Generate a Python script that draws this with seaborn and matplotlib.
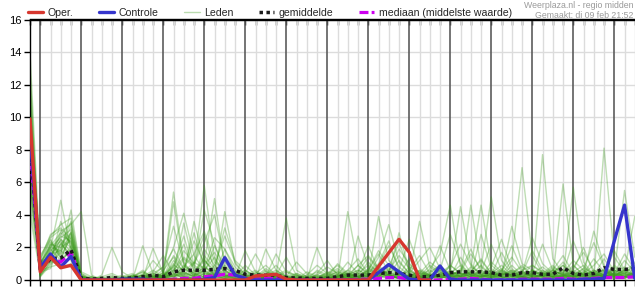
import numpy as np
import pandas as pd
import matplotlib
matplotlib.use("Agg")
import matplotlib.pyplot as plt
import seaborn as sns
from matplotlib.lines import Line2D

sns.set_theme(style="white")
plt.rcParams['font.family'] = ['Liberation Sans', 'DejaVu Sans']

# ---------------- data (6-hourly steps, step 0 = di 09 feb 18:00) ----------------
day_labels = ["Wo 10", "Do 11", "Vr 12", "Za 13", "Zo 14", "Ma 15", "Di 16",
              "Wo 17", "Do 18", "Vr 19", "Za 20", "Zo 21", "Ma 22", "Di 23"]
y_ticks = [0, 2, 4, 6, 8, 10, 12, 14, 16]

oper = [9.9, 0.5, 1.4, 0.75, 0.9, 0, 0, 0, 0, 0,
        0, 0, 0, 0, 0, 0, 0, 0, 0, 0,
        0, 0, 0.25, 0.3, 0.35, 0.05, 0, 0, 0, 0,
        0, 0, 0, 0, 0.83, 1.67, 2.5, 1.7, 0, 0]

controle = [8.9, 0.75, 1.6, 0.8, 1.45, 0, 0, 0, 0, 0.05,
            0.05, 0.05, 0, 0, 0, 0, 0, 0.05, 0.15, 1.37,
            0.3, 0.1, 0, 0, 0, 0, 0, 0, 0, 0,
            0, 0, 0, 0, 0.45, 0.95, 0.5, 0.05, 0, 0,
            0.86, 0.05, 0, 0, 0, 0, 0, 0, 0, 0,
            0, 0, 0, 0, 0.05, 0.05, 0.1, 2.4, 4.6, 0.1]

gemiddelde = [8.5, 0.65, 1.3, 1.35, 1.85, 0.1, 0.05, 0.1, 0.15, 0.1,
              0.12, 0.2, 0.3, 0.2, 0.5, 0.6, 0.6, 0.6, 0.65, 0.7,
              0.6, 0.35, 0.3, 0.3, 0.3, 0.15, 0.12, 0.1, 0.1, 0.1,
              0.2, 0.3, 0.3, 0.3, 0.4, 0.45, 0.4, 0.3, 0.2, 0.2,
              0.3, 0.45, 0.5, 0.5, 0.5, 0.45, 0.3, 0.3, 0.45, 0.45,
              0.35, 0.35, 0.75, 0.4, 0.3, 0.4, 0.75, 0.65, 0.65, 0.7]

mediaan = [8.0, 0.6, 1.4, 1.1, 1.7, 0, 0, 0, 0, 0,
           0, 0, 0.05, 0, 0.05, 0.1, 0.1, 0.2, 0.25, 0.35,
           0.3, 0.1, 0.05, 0.1, 0.1, 0, 0, 0, 0, 0,
           0, 0, 0.05, 0.05, 0.1, 0.15, 0.15, 0.05, 0, 0,
           0, 0.05, 0.05, 0.1, 0.05, 0, 0, 0, 0.05, 0.05,
           0.05, 0.05, 0.1, 0.05, 0.05, 0.1, 0.15, 0.15, 0.15, 0.2]

m01 = [14.0, 1.2, 2.8, 3.2, 2.5, 0.3, 0.0, 0.0, 0.2, 0.0,
       0.0, 0.1, 0.3, 0.8, 1.9, 0.7, 0.4, 1.2, 0.6, 0.3,
       0.1, 0.0, 0.2, 0.5, 0.3, 0.1, 0.0, 0.1, 0.3, 0.8,
       0.4, 0.2, 0.9, 1.5, 0.7, 0.3, 0.1, 0.0, 0.4, 1.1,
       0.6, 0.2, 0.1, 0.5, 1.3, 0.4, 0.2, 0.0, 0.3, 0.9,
       0.5, 0.1, 0.2, 0.8, 1.7, 0.6, 0.3, 0.9, 0.4, 0.2]
m02 = [13.0, 0.6, 1.9, 4.9, 1.8, 0.1, 0.0, 0.1, 0.0, 0.0,
       0.2, 0.5, 0.1, 0.0, 0.6, 1.4, 0.9, 5.8, 1.3, 0.4,
       0.2, 0.1, 0.0, 0.3, 0.6, 0.2, 0.0, 0.0, 0.1, 0.2,
       0.5, 0.3, 0.1, 0.6, 1.8, 0.9, 0.4, 0.2, 0.0, 0.1,
       0.3, 0.8, 2.2, 0.9, 0.3, 0.1, 0.6, 1.4, 0.5, 0.2,
       0.1, 0.4, 1.1, 0.3, 0.0, 0.2, 0.7, 0.3, 1.2, 0.5]
m03 = [12.5, 0.9, 2.3, 1.6, 4.3, 0.4, 0.1, 0.0, 0.0, 0.1,
       0.3, 0.0, 0.2, 0.4, 5.4, 1.1, 0.2, 0.1, 0.3, 0.9,
       0.4, 0.2, 0.1, 0.0, 0.2, 0.5, 0.3, 0.1, 0.0, 0.0,
       0.2, 0.6, 1.3, 0.4, 0.9, 2.1, 0.8, 0.3, 0.1, 0.4,
       0.9, 0.3, 0.5, 1.6, 0.7, 5.1, 1.2, 0.4, 0.1, 0.3,
       0.2, 0.6, 0.3, 0.1, 0.4, 1.3, 0.5, 0.2, 0.6, 1.0]
m04 = [12.0, 0.4, 1.4, 3.0, 3.4, 4.2, 0.3, 0.0, 0.1, 0.0,
       0.0, 0.1, 0.4, 0.2, 0.9, 0.6, 2.4, 1.0, 5.0, 0.8,
       0.3, 0.1, 0.0, 0.1, 0.4, 0.2, 0.1, 0.0, 0.0, 0.3,
       0.1, 4.2, 0.9, 0.4, 0.2, 0.6, 1.5, 0.7, 0.2, 0.1,
       0.3, 0.5, 0.2, 0.8, 0.4, 0.1, 0.3, 1.2, 6.9, 1.5,
       0.4, 0.2, 0.1, 0.5, 0.9, 0.3, 0.2, 0.4, 0.8, 0.3]
m05 = [11.5, 1.0, 2.0, 2.6, 3.1, 0.2, 0.0, 0.3, 2.0, 0.5,
       0.1, 0.0, 0.3, 0.1, 0.4, 3.5, 0.9, 0.5, 0.2, 4.2,
       1.0, 0.3, 0.1, 0.0, 0.2, 0.1, 0.0, 0.2, 0.5, 0.2,
       0.1, 0.3, 0.6, 0.3, 3.9, 1.2, 0.5, 0.2, 0.6, 0.3,
       0.1, 0.4, 4.5, 1.0, 0.3, 0.6, 0.2, 0.1, 0.4, 0.2,
       7.7, 1.3, 0.4, 0.2, 0.1, 0.3, 0.6, 0.2, 0.1, 0.4]
m06 = [11.0, 0.3, 1.6, 2.2, 2.9, 0.1, 0.2, 0.0, 0.1, 0.3,
       0.0, 2.1, 0.4, 0.2, 0.3, 0.8, 1.6, 3.0, 1.1, 0.6,
       0.2, 1.8, 0.5, 0.1, 0.0, 0.2, 0.1, 0.0, 2.0, 0.4,
       0.2, 0.1, 0.4, 0.9, 0.5, 0.2, 0.1, 0.3, 3.6, 0.8,
       0.4, 0.2, 0.6, 0.3, 0.1, 0.2, 0.5, 0.3, 0.2, 0.6,
       0.3, 0.1, 5.9, 0.9, 0.3, 0.5, 0.2, 0.4, 0.3, 1.1]
m07 = [10.5, 0.7, 1.1, 3.6, 2.0, 0.2, 0.0, 0.0, 0.0, 0.1,
       0.3, 0.1, 1.95, 0.4, 0.2, 0.5, 1.1, 0.7, 2.6, 1.9,
       0.5, 0.2, 0.0, 0.1, 0.3, 3.8, 0.6, 0.2, 0.1, 0.0,
       0.3, 0.2, 0.1, 0.5, 1.0, 2.4, 0.6, 0.2, 0.1, 0.7,
       1.6, 4.6, 0.8, 0.3, 0.5, 0.2, 0.1, 0.4, 0.9, 0.3,
       0.2, 0.6, 0.3, 0.1, 0.5, 0.2, 0.4, 0.6, 0.3, 0.2]
m08 = [10.0, 1.5, 2.5, 1.3, 2.7, 0.1, 0.0, 0.1, 0.0, 0.0,
       0.1, 0.3, 0.2, 0.6, 1.4, 0.4, 3.6, 1.2, 0.5, 0.3,
       0.2, 0.4, 1.6, 0.5, 0.2, 0.1, 0.3, 0.1, 0.0, 0.2,
       0.1, 0.0, 2.7, 0.8, 0.3, 0.5, 1.9, 1.0, 0.4, 0.2,
       0.1, 0.3, 0.2, 0.7, 4.6, 0.9, 0.4, 0.2, 0.3, 0.5,
       0.2, 0.4, 0.9, 0.4, 0.2, 0.1, 8.1, 1.4, 0.5, 0.3]
m09 = [9.5, 0.5, 1.8, 2.4, 1.2, 0.0, 0.1, 0.0, 0.0, 0.0,
       0.2, 0.6, 0.1, 0.3, 0.8, 2.2, 0.5, 0.9, 1.7, 0.6,
       0.3, 0.1, 0.0, 1.9, 0.6, 0.2, 0.1, 0.0, 0.2, 0.4,
       0.7, 0.3, 0.2, 0.1, 0.4, 0.9, 0.3, 0.6, 1.5, 0.4,
       0.2, 0.1, 0.3, 0.6, 0.3, 0.8, 2.5, 0.7, 0.2, 0.1,
       0.4, 0.9, 0.3, 0.6, 2.0, 0.4, 0.2, 0.5, 5.5, 1.4]
m10 = [9.0, 0.2, 0.9, 1.9, 3.3, 0.3, 0.0, 0.2, 0.4, 0.1,
       0.0, 0.1, 0.0, 0.5, 0.3, 1.3, 0.8, 0.4, 0.2, 1.5,
       0.6, 0.2, 0.4, 0.9, 0.3, 0.1, 0.0, 0.0, 0.1, 0.5,
       0.3, 1.1, 0.4, 0.2, 0.6, 0.3, 0.2, 0.8, 0.5, 0.2,
       0.3, 0.6, 0.2, 4.6, 0.8, 0.3, 0.1, 0.2, 0.4, 1.8,
       0.6, 0.2, 0.1, 0.3, 0.7, 2.3, 0.8, 0.3, 0.6, 3.9]
m11 = [9.0, 1.1, 2.1, 2.9, 2.3, 0.1, 0.0, 0.0, 0.1, 0.0,
       0.0, 0.2, 0.6, 0.2, 4.8, 0.9, 0.3, 0.6, 1.4, 0.4,
       0.1, 0.0, 0.3, 0.2, 1.6, 0.5, 0.1, 0.0, 0.0, 0.1,
       0.2, 0.6, 0.3, 1.1, 0.4, 0.2, 0.6, 2.5, 0.7, 0.3,
       0.2, 0.4, 0.9, 0.3, 0.1, 0.4, 0.3, 0.6, 0.2, 0.1,
       0.3, 0.6, 1.5, 0.4, 0.2, 0.6, 0.3, 0.1, 0.2, 0.4]
m12 = [8.5, 0.6, 1.5, 1.1, 1.9, 0.2, 0.1, 0.0, 0.0, 0.2,
       0.4, 0.0, 0.1, 0.3, 0.2, 0.6, 2.9, 0.8, 0.3, 0.2,
       0.4, 0.1, 0.0, 0.2, 0.5, 0.2, 0.0, 0.3, 0.1, 0.0,
       0.4, 0.2, 0.5, 1.4, 0.6, 0.3, 1.2, 0.4, 0.2, 0.9,
       0.5, 0.2, 0.1, 0.4, 0.2, 1.1, 0.5, 2.1, 0.6, 0.2,
       0.1, 0.3, 0.6, 0.2, 0.4, 0.9, 1.6, 0.5, 0.2, 0.1]
m13 = [8.0, 0.9, 2.6, 3.1, 2.2, 0.4, 0.0, 0.1, 0.0, 0.0,
       0.1, 0.3, 0.2, 0.0, 0.3, 0.5, 0.2, 1.5, 0.7, 3.2,
       1.2, 0.6, 0.2, 0.1, 0.0, 0.1, 0.2, 0.0, 0.6, 0.3,
       0.2, 0.4, 0.2, 0.6, 1.6, 0.5, 0.2, 0.1, 0.3, 0.6,
       0.2, 0.9, 0.4, 0.2, 0.5, 2.2, 0.6, 0.3, 0.1, 0.4,
       0.8, 0.3, 0.2, 5.7, 1.1, 0.3, 0.2, 0.6, 0.4, 0.2]
m14 = [8.0, 0.3, 1.0, 1.7, 2.8, 0.0, 0.2, 0.1, 0.0, 0.0,
       0.2, 0.5, 0.2, 0.1, 0.7, 0.3, 1.0, 2.3, 4.0, 1.1,
       0.3, 0.1, 0.0, 0.2, 0.1, 0.0, 0.4, 0.2, 0.1, 0.3,
       0.6, 0.2, 0.1, 0.3, 0.7, 0.4, 2.9, 0.6, 0.2, 0.1,
       0.1, 0.3, 0.6, 1.9, 0.5, 0.2, 0.4, 0.3, 0.6, 0.9,
       0.4, 0.2, 0.3, 0.9, 0.3, 0.1, 0.4, 0.2, 0.7, 0.5]
m15 = [7.5, 0.8, 1.3, 2.0, 3.6, 0.1, 0.0, 0.0, 0.2, 0.0,
       0.0, 0.1, 0.5, 1.5, 0.4, 0.2, 0.3, 0.8, 0.4, 0.6,
       0.2, 0.9, 0.3, 0.1, 0.0, 0.2, 1.1, 0.4, 0.1, 0.0,
       0.1, 0.3, 0.9, 0.3, 0.2, 0.7, 0.4, 0.2, 0.5, 0.3,
       0.2, 0.1, 0.4, 0.3, 0.9, 0.3, 0.6, 0.2, 0.4, 0.3,
       0.5, 0.2, 0.6, 0.3, 0.2, 0.4, 0.2, 0.3, 0.1, 0.6]
m16 = [7.0, 0.4, 2.2, 1.4, 1.6, 0.0, 0.0, 0.0, 0.0, 0.1,
       0.2, 0.1, 0.0, 0.2, 0.9, 2.7, 0.6, 0.3, 0.1, 0.2,
       0.5, 0.3, 0.6, 0.2, 0.1, 0.0, 0.0, 0.1, 0.3, 0.2,
       0.1, 0.2, 0.3, 0.2, 0.9, 0.3, 0.1, 0.4, 0.2, 0.5,
       0.9, 0.2, 0.3, 0.5, 0.2, 0.4, 0.9, 0.3, 0.1, 0.2,
       0.6, 0.3, 0.1, 0.2, 0.5, 0.3, 0.2, 0.8, 0.3, 0.4]
m17 = [7.0, 1.3, 2.4, 1.5, 2.6, 0.2, 0.1, 0.0, 0.0, 0.0,
       0.1, 0.0, 0.2, 0.4, 0.2, 0.4, 0.2, 1.9, 0.9, 0.3,
       0.1, 0.4, 0.2, 0.7, 0.3, 1.4, 0.3, 0.1, 0.0, 0.1,
       0.3, 0.1, 0.2, 0.4, 0.3, 0.1, 0.5, 0.2, 0.1, 0.2,
       0.6, 0.3, 0.5, 0.2, 0.6, 0.3, 0.2, 0.5, 0.2, 0.6,
       0.2, 0.5, 0.4, 1.2, 0.6, 0.2, 0.3, 0.1, 0.5, 0.3]
m18 = [6.5, 0.5, 0.7, 2.3, 1.4, 0.1, 0.0, 0.1, 0.3, 0.0,
       0.0, 0.4, 0.2, 0.1, 1.2, 0.5, 0.2, 0.4, 2.1, 0.8,
       0.3, 0.1, 0.0, 0.0, 0.2, 0.1, 0.0, 0.5, 0.2, 0.1,
       0.2, 0.4, 0.2, 0.1, 0.3, 0.5, 0.2, 0.1, 0.6, 0.2,
       0.3, 0.2, 0.7, 0.3, 0.2, 0.1, 0.4, 0.2, 0.5, 0.3,
       0.2, 0.1, 0.3, 0.5, 0.2, 0.4, 0.6, 0.3, 0.2, 0.7]
m19 = [6.0, 0.9, 1.7, 2.7, 2.4, 0.3, 0.0, 0.0, 0.0, 0.2,
       0.1, 0.0, 0.3, 0.2, 0.1, 0.9, 0.4, 0.2, 0.6, 0.3,
       0.2, 0.6, 0.1, 0.3, 0.9, 0.2, 0.1, 0.0, 0.0, 0.2,
       0.5, 0.2, 0.1, 0.2, 0.4, 0.3, 0.1, 0.2, 0.3, 0.1,
       0.4, 0.5, 0.3, 0.2, 0.1, 0.6, 0.2, 0.9, 0.3, 0.2,
       0.3, 0.7, 0.2, 0.4, 0.3, 0.2, 0.5, 0.3, 0.4, 0.2]
m20 = [6.0, 0.2, 1.2, 0.8, 1.0, 0.0, 0.1, 0.0, 0.0, 0.0,
       0.0, 0.2, 0.1, 0.3, 0.2, 0.4, 0.3, 0.2, 0.5, 0.2,
       0.1, 0.2, 0.0, 0.1, 0.3, 0.0, 0.0, 0.1, 0.2, 0.1,
       0.0, 0.1, 0.3, 0.2, 0.1, 0.4, 0.2, 0.0, 0.1, 0.3,
       0.2, 0.1, 0.2, 0.1, 0.3, 0.2, 0.1, 0.3, 0.2, 0.1,
       0.1, 0.2, 0.1, 0.3, 0.2, 0.1, 0.2, 0.1, 0.3, 0.2]
m21 = [5.5, 0.7, 1.9, 1.2, 3.0, 0.2, 0.0, 0.0, 0.1, 0.0,
       0.3, 0.1, 0.0, 0.2, 0.6, 0.2, 0.5, 1.3, 0.3, 0.1,
       0.0, 0.2, 0.4, 0.1, 0.0, 0.3, 0.1, 0.0, 0.4, 1.2,
       0.3, 0.1, 0.2, 0.7, 0.3, 0.2, 0.4, 0.1, 0.2, 0.4,
       2.1, 0.6, 0.2, 0.4, 0.2, 0.3, 0.7, 0.2, 0.1, 0.5,
       0.3, 0.2, 0.5, 0.2, 0.6, 0.3, 0.1, 0.4, 0.2, 0.3]
m22 = [5.0, 1.1, 1.4, 2.5, 1.7, 0.0, 0.0, 0.2, 0.0, 0.0,
       0.0, 0.0, 0.2, 0.1, 0.3, 0.2, 0.1, 0.4, 0.3, 0.5,
       0.2, 0.1, 0.0, 0.2, 0.1, 0.0, 0.3, 0.1, 0.0, 0.1,
       0.2, 0.5, 0.2, 0.1, 0.2, 0.3, 0.1, 0.3, 0.2, 0.1,
       0.3, 0.2, 0.4, 0.2, 0.3, 0.1, 0.3, 0.5, 0.2, 0.1,
       0.4, 0.2, 0.2, 0.1, 0.3, 0.2, 0.5, 0.2, 0.1, 0.3]
m23 = [4.5, 0.6, 0.8, 1.0, 2.1, 0.1, 0.1, 0.0, 0.0, 0.1,
       0.2, 0.3, 0.1, 0.0, 0.4, 0.1, 0.2, 0.6, 0.2, 0.1,
       0.3, 0.2, 0.1, 0.3, 0.2, 0.1, 0.0, 0.2, 0.1, 0.0,
       0.1, 0.2, 0.4, 0.2, 0.5, 0.1, 0.3, 0.2, 0.1, 0.2,
       0.2, 0.3, 0.1, 0.2, 0.4, 0.2, 0.3, 0.1, 0.2, 0.3,
       0.2, 0.4, 0.2, 0.3, 0.1, 0.2, 0.3, 0.6, 0.2, 0.1]
m24 = [4.0, 0.4, 1.6, 1.8, 1.3, 0.0, 0.0, 0.0, 0.0, 0.0,
       0.1, 0.0, 0.0, 0.2, 0.1, 0.3, 0.1, 0.2, 0.4, 0.2,
       0.1, 0.0, 0.2, 0.1, 0.0, 0.1, 0.2, 0.0, 0.1, 0.2,
       0.1, 0.1, 0.2, 0.3, 0.2, 0.1, 0.2, 0.1, 0.1, 0.2,
       0.1, 0.2, 0.2, 0.1, 0.2, 0.3, 0.1, 0.2, 0.1, 0.2,
       0.2, 0.1, 0.3, 0.2, 0.1, 0.2, 0.1, 0.3, 0.2, 0.2]
m25 = [11.0, 1.4, 2.7, 3.4, 3.8, 0.5, 0.2, 0.0, 0.0, 0.0,
       0.1, 0.3, 1.2, 0.5, 2.0, 4.1, 1.5, 0.6, 0.3, 1.9,
       0.8, 0.2, 0.1, 0.0, 0.3, 0.6, 0.2, 0.0, 0.1, 0.4,
       0.9, 0.3, 0.6, 0.3, 1.4, 3.4, 1.1, 0.4, 1.2, 2.0,
       0.7, 0.3, 0.2, 0.5, 1.2, 0.4, 0.3, 3.3, 1.0, 0.6,
       0.3, 0.8, 0.4, 2.4, 0.8, 0.3, 1.3, 0.4, 0.2, 0.5]
m26 = [10.0, 0.7, 1.4, 2.8, 3.5, 0.2, 0.0, 0.1, 0.0, 0.1,
       0.0, 0.2, 0.1, 0.3, 1.0, 0.3, 0.6, 4.3, 2.2, 0.5,
       0.3, 0.6, 0.2, 0.1, 0.0, 0.2, 0.4, 0.1, 0.0, 0.2,
       0.3, 0.1, 0.5, 2.1, 0.6, 0.2, 0.3, 0.5, 0.3, 0.1,
       0.4, 0.9, 0.4, 0.2, 2.8, 0.7, 0.3, 0.6, 0.4, 2.6,
       1.0, 0.4, 0.2, 0.5, 0.3, 3.0, 0.9, 0.3, 0.6, 0.3]
m27 = [9.0, 1.0, 2.0, 1.8, 2.9, 0.1, 0.0, 0.0, 0.0, 0.0,
       0.2, 0.1, 0.4, 0.8, 3.3, 1.0, 0.4, 0.2, 0.9, 2.7,
       1.1, 0.3, 0.2, 0.0, 0.1, 0.2, 0.0, 0.0, 0.3, 0.2,
       1.0, 0.4, 0.2, 0.6, 0.3, 0.8, 2.3, 0.6, 0.2, 0.3,
       0.6, 2.8, 1.0, 0.3, 0.2, 0.5, 0.2, 0.4, 0.8, 0.3,
       0.2, 0.5, 0.9, 0.3, 0.7, 0.4, 0.3, 1.8, 0.6, 0.3]
m28 = [8.0, 0.3, 1.1, 2.2, 1.6, 0.0, 0.0, 0.0, 0.0, 0.0,
       0.0, 0.1, 0.2, 0.1, 0.5, 1.8, 1.0, 2.8, 0.6, 0.2,
       0.1, 0.2, 0.5, 0.2, 0.1, 0.0, 0.1, 0.3, 0.9, 0.4,
       0.2, 0.1, 0.1, 0.3, 0.5, 0.2, 0.1, 0.2, 0.4, 0.3,
       0.2, 0.4, 0.2, 0.3, 0.6, 0.3, 1.7, 0.5, 0.2, 0.4,
       2.2, 0.6, 0.3, 0.2, 0.4, 0.2, 0.6, 0.3, 0.5, 0.2]
m29 = [7.0, 0.8, 2.2, 2.0, 2.4, 0.2, 0.1, 0.0, 0.0, 0.1,
       0.0, 0.3, 0.1, 0.2, 1.5, 0.7, 0.3, 0.5, 0.2, 0.1,
       0.4, 0.2, 0.1, 0.6, 0.2, 0.0, 0.1, 0.0, 0.2, 0.1,
       0.1, 0.3, 0.2, 0.4, 0.2, 0.6, 0.3, 1.3, 0.4, 0.2,
       0.3, 0.2, 1.4, 0.4, 0.3, 0.2, 0.5, 0.3, 0.2, 0.6,
       0.4, 0.3, 0.2, 0.6, 0.3, 0.5, 0.2, 0.4, 1.6, 0.6]
m30 = [6.0, 0.5, 1.3, 2.5, 2.0, 0.0, 0.0, 0.1, 0.0, 0.0,
       0.1, 0.0, 0.3, 0.2, 0.8, 0.2, 0.1, 0.9, 0.3, 0.1,
       0.0, 0.1, 0.3, 0.2, 0.1, 0.0, 0.2, 0.1, 0.0, 0.1,
       0.2, 0.4, 0.1, 0.2, 0.8, 0.3, 0.1, 0.2, 0.1, 0.3,
       0.5, 0.2, 0.3, 0.1, 0.2, 0.4, 0.2, 0.3, 0.5, 0.2,
       0.3, 0.2, 0.4, 0.2, 0.3, 0.6, 0.3, 0.2, 0.4, 0.9]

leden = [m01, m02, m03, m04, m05, m06, m07, m08, m09, m10,
         m11, m12, m13, m14, m15, m16, m17, m18, m19, m20,
         m21, m22, m23, m24, m25, m26, m27, m28, m29, m30]

# ---------------- build frames ----------------
n_steps = len(controle)
steps = np.arange(n_steps)
for m in leden:
    assert len(m) == n_steps
df_leden = pd.DataFrame({
    "step": np.tile(steps, len(leden)),
    "value": np.concatenate(leden),
    "member": np.repeat(np.arange(len(leden)), n_steps),
})

# ---------------- styling ----------------
RED = "#d6372f"
BLUE = "#3535cc"
GREEN = "#3a9a1a"
MAGENTA = "#cc00ee"
GRID_LIGHT = "#dcdcdc"
GRID_DARK = "#5c5c5c"
FS = 7.6

fig = plt.figure(figsize=(6.35, 3.0), dpi=100)
ax = fig.add_axes([30 / 635, 20 / 300, 605 / 635, 260.5 / 300])
ax.set_facecolor("white")

# grid
ax.set_xlim(0, n_steps - 1 + 0.02)
ax.set_ylim(0, 16)
for s in steps:
    if s % 4 == 1:
        ax.axvline(s, color=GRID_DARK, lw=1.2, zorder=0.6)
    elif s > 0:
        ax.axvline(s, color=GRID_LIGHT, lw=1.0, zorder=0.5)
ax.set_yticks(y_ticks)
ax.yaxis.grid(True, color=GRID_LIGHT, lw=1.0, zorder=0.5)
ax.set_axisbelow(True)

# members
sns.lineplot(data=df_leden, x="step", y="value", units="member", estimator=None,
             color=GREEN, alpha=0.33, lw=1.0, ax=ax, legend=False, zorder=2)
# median and mean
sns.lineplot(x=steps, y=mediaan, color=MAGENTA, lw=2.3, ax=ax, zorder=3,
             linestyle=(0, (2.8, 1.0)))
sns.lineplot(x=steps, y=gemiddelde, color="#1a1a1a", lw=2.5, ax=ax, zorder=4,
             linestyle=(0, (1, 1)))
# control and operational
sns.lineplot(x=steps, y=controle, color=BLUE, lw=2.4, ax=ax, zorder=5)
sns.lineplot(x=steps[:len(oper)], y=oper, color=RED, lw=2.4, ax=ax, zorder=6)

ax.set_xlabel("")
ax.set_ylabel("")

# ticks
ax.set_xticks(steps)
ax.set_xticklabels([""] * n_steps)
ax.set_xticks([3 + 4 * k for k in range(len(day_labels))], minor=True)
ax.set_xticklabels(day_labels, minor=True)
ax.tick_params(axis="x", which="major", direction="out", length=4, width=1,
               color="black", bottom=True)
ax.tick_params(axis="x", which="minor", length=0, pad=6, labelsize=FS,
               labelcolor="black")
ax.tick_params(axis="y", direction="out", length=4, width=1, color="black",
               left=True, labelsize=FS + 0.4, pad=2, labelcolor="black")

sec = ax.secondary_xaxis("top")
sec.set_xticks(steps)
sec.tick_params(direction="in", length=4, width=1, color="black", labeltop=False)
sec.spines["top"].set_color("black")
sec.spines["top"].set_linewidth(1)

for side in ["left", "bottom", "top"]:
    ax.spines[side].set_visible(True)
    ax.spines[side].set_color("black")
    ax.spines[side].set_linewidth(1)
ax.spines["right"].set_visible(False)

# legend
handles = [
    Line2D([], [], color=RED, lw=2.4),
    Line2D([], [], color=BLUE, lw=2.4),
    Line2D([], [], color=GREEN, alpha=0.35, lw=1.0),
    Line2D([], [], color="#1a1a1a", lw=2.5, linestyle=(0, (1, 1))),
    Line2D([], [], color=MAGENTA, lw=2.3, linestyle=(0, (2.8, 1.0))),
]
labels = ["Oper.", "Controle", "Leden", "gemiddelde", "mediaan (middelste waarde)"]
fig.legend(handles, labels, loc="center left", bbox_to_anchor=(28 / 635, 1 - 13 / 300),
           ncol=5, frameon=False, fontsize=FS, handlelength=1.45, handletextpad=0.4,
           columnspacing=2.45, borderaxespad=0, borderpad=0)

fig.text(633 / 635, 1 - 5 / 300, "Weerplaza.nl - regio midden", ha="right",
         va="center", fontsize=6.3, color="#9a9a9a")
fig.text(633 / 635, 1 - 15 / 300, "Gemaakt: di 09 feb 21:52", ha="right",
         va="center", fontsize=6.3, color="#9a9a9a")

fig.savefig("out.png", dpi=100, facecolor="white")
